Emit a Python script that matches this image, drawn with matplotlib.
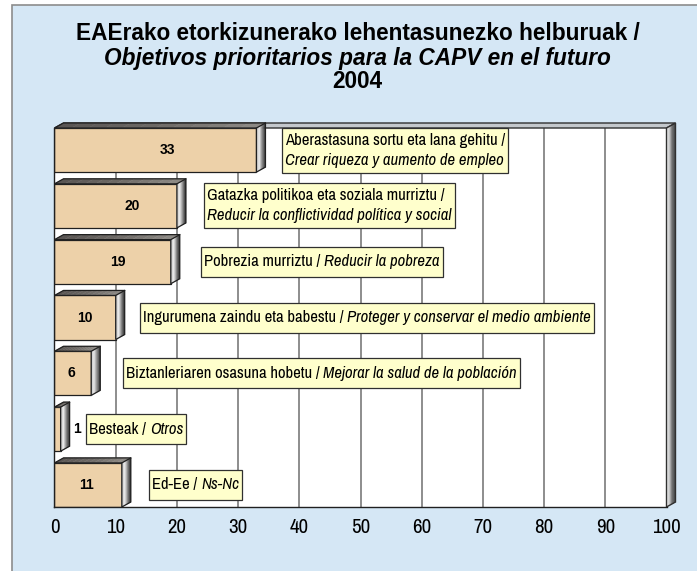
import numpy as np
import matplotlib
matplotlib.use('Agg')
import matplotlib.pyplot as plt
from matplotlib.patches import Polygon, Rectangle

# ── data ──────────────────────────────────────────────────────────────────────
values = [33, 20, 19, 10, 6, 1, 11]
label_eu = ["Aberastasuna sortu eta lana gehitu / ",
            "Gatazka politikoa eta soziala murriztu / ",
            "Pobrezia murriztu / ",
            "Ingurumena zaindu eta babestu / ",
            "Biztanleriaren osasuna hobetu / ",
            "Besteak / ",
            "Ed-Ee / "]
label_es = ["Crear riqueza y aumento de empleo",
            "Reducir la conflictividad política y social",
            "Reducir la pobreza",
            "Proteger y conservar el medio ambiente",
            "Mejorar la salud de la población",
            "Otros",
            "Ns-Nc"]
two_lines = [True, True, False, False, False, False, False]
ticks = list(range(0, 101, 10))

# where the value numbers and the yellow boxes sit (x in axis units)
num_x = [18.5, 12.7, 10.3, 5.0, 2.8, 3.7, 5.3]
box_x = [37.0, 24.3, 23.8, 13.8, 11.0, 5.0, 15.3]

title_l1 = "EAErako etorkizunerako lehentasunezko helburuak /"
title_l2 = "Objetivos prioritarios para la CAPV en el futuro"
title_l3 = "2004"

# ── style ─────────────────────────────────────────────────────────────────────
PANEL = '#D5E7F5'
BAR = '#EDD1A9'
BOX = '#FFFFCC'
GRID = '#7a7a7a'
NARROW = ['Archivo Narrow', 'DejaVu Sans']
BOLD = ['Liberation Sans', 'DejaVu Sans']

plt.rcParams['font.family'] = NARROW

W, H = 697, 571
fig = plt.figure(figsize=(W / 100, H / 100), dpi=100)
fig.patch.set_facecolor('white')

# light blue panel with grey border
fig.add_artist(Rectangle((12 / W, -0.01), 1.0, (H - 5) / H + 0.01,
                         transform=fig.transFigure, facecolor=PANEL,
                         edgecolor='#8c8c8c', linewidth=1.2, zorder=-10))

for txt, yy, st in [(title_l1, 34, 'normal'), (title_l2, 58, 'italic'), (title_l3, 82, 'normal')]:
    fig.text(0.513, 1 - yy / H, txt, ha='center', va='center', fontsize=16.3,
             fontweight='bold', style=st, family=BOLD)

left, right, top, bottom = 54.5, 666.5, 128, 507
ax = fig.add_axes([left / W, (H - bottom) / H, (right - left) / W, (bottom - top) / H])
ax.set_facecolor('white')

n = len(values)
h = 0.79
y = np.arange(n)
ax.set_xlim(0, 100)
ax.set_ylim(n - 1 + h / 2, -h / 2)

px_x = (right - left) / 100.0
px_y = (bottom - top) / (n - 1 + h)
dx = 9 / px_x
dy = 5 / px_y

# grid lines
for t in ticks[1:-1]:
    ax.axvline(t, color=GRID, linewidth=1.2, zorder=1)


def blend(c0, c1, f):
    a = np.array(matplotlib.colors.to_rgb(c0))
    b = np.array(matplotlib.colors.to_rgb(c1))
    return tuple(a + (b - a) * f)


def grad(stops, m):
    out = []
    for k in range(m):
        f = k / (m - 1) * (len(stops) - 1)
        i = min(int(f), len(stops) - 2)
        out.append(blend(stops[i], stops[i + 1], f - i))
    return out


# 3D frame: top face and right wall
y_top, y_bot = -h / 2, n - 1 + h / 2
ax.add_patch(Polygon([(0, y_top), (dx, y_top - dy), (100 + dx, y_top - dy), (100, y_top)],
                     closed=True, facecolor='#c4c8cc', edgecolor='#303030',
                     linewidth=1.0, clip_on=False, zorder=2))
wall = grad(['#f0f0f0', '#c8c8c8', '#707070', '#404040'], 10)
for k, c in enumerate(wall):
    f0, f1 = k / len(wall), (k + 1) / len(wall)
    ax.add_patch(Polygon([(100 + dx * f0, y_top - dy * f0), (100 + dx * f1, y_top - dy * f1),
                          (100 + dx * f1, y_bot - dy * f1), (100 + dx * f0, y_bot - dy * f0)],
                         closed=True, facecolor=c, edgecolor=c, linewidth=0.3,
                         clip_on=False, zorder=2))
ax.add_patch(Polygon([(100, y_top), (100 + dx, y_top - dy), (100 + dx, y_bot - dy), (100, y_bot)],
                     closed=True, facecolor='none', edgecolor='#303030',
                     linewidth=1.0, clip_on=False, zorder=2))

# bars with pseudo 3D faces
ax.barh(y, values, height=h, color=BAR, edgecolor='#202020', linewidth=0.9, zorder=3)
side = grad(['#c8c8c8', '#e8e8e8', '#8a8a8a', '#383838'], 10)
for yi, v in zip(y, values):
    yt, yb = yi - h / 2, yi + h / 2
    m = len(side)
    for k in range(m):
        f0, f1 = k / m, (k + 1) / m
        ax.add_patch(Polygon([(v + dx * f0, yt - dy * f0), (v + dx * f1, yt - dy * f1),
                              (v + dx * f1, yb - dy * f1), (v + dx * f0, yb - dy * f0)],
                             closed=True, facecolor=side[k], edgecolor=side[k],
                             linewidth=0.3, clip_on=False, zorder=3))
    topc = grad(['#5a5654', '#6e6a66', '#8c8984'], 12)
    for k, c in enumerate(topc):
        x0, x1 = v * k / len(topc), v * (k + 1) / len(topc)
        ax.add_patch(Polygon([(x0, yt), (x0 + dx, yt - dy), (x1 + dx, yt - dy), (x1, yt)],
                             closed=True, facecolor=c, edgecolor=c, linewidth=0.3,
                             clip_on=False, zorder=3))
    ax.add_patch(Polygon([(0, yt), (dx, yt - dy), (v + dx, yt - dy), (v + dx, yb - dy),
                          (v, yb), (v, yt)], closed=True, facecolor='none',
                         edgecolor='#202020', linewidth=0.9, clip_on=False, zorder=3))
    ax.plot([v, v + dx], [yt, yt - dy], color='#202020', linewidth=0.9,
            clip_on=False, zorder=3)

for yi, v, nx in zip(y, values, num_x):
    ax.text(nx, yi, str(v), ha='center', va='center', fontsize=10,
            fontweight='bold', family=BOLD, zorder=6)

# yellow label boxes (Basque regular + Spanish italic)
LFS = 12
boxes = []
for yi, bx, eu, es, two in zip(y, box_x, label_eu, label_es, two_lines):
    if two:
        a1 = ax.annotate(eu.rstrip(), xy=(bx, yi), xytext=(4, 10), textcoords='offset pixels',
                         ha='left', va='center', fontsize=LFS, zorder=6)
        a2 = ax.annotate(es, xy=(bx, yi), xytext=(4, -10), textcoords='offset pixels',
                         ha='left', va='center', fontsize=LFS, style='italic', zorder=6)
    else:
        a1 = ax.annotate(eu, xy=(bx, yi), xytext=(4, 0), textcoords='offset pixels',
                         ha='left', va='center', fontsize=LFS, zorder=6)
        a2 = ax.annotate(es, xy=(1, 0), xycoords=a1, ha='left', va='bottom',
                         fontsize=LFS, style='italic', zorder=6)
    boxes.append((yi, bx, [a1, a2], two))

ax.set_xticks(ticks)
ax.set_xticklabels([str(t) for t in ticks], fontsize=15)
ax.tick_params(axis='x', length=0, pad=8)
ax.set_yticks([])
for s in ['top', 'right']:
    ax.spines[s].set_visible(False)
for s in ['left', 'bottom']:
    ax.spines[s].set_color('#202020')
    ax.spines[s].set_linewidth(1.0)
    ax.spines[s].set_zorder(4)

fig.canvas.draw()
r = fig.canvas.get_renderer()
inv = ax.transData.inverted()
for yi, bx, arts, two in boxes:
    bbs = [a.get_window_extent(r) for a in arts]
    x0 = min(b.x0 for b in bbs) - 3
    x1 = max(b.x1 for b in bbs) + 3
    cy = ax.transData.transform((bx, yi))[1]
    half = 22.5 if two else 15
    (dx0, dy0) = inv.transform((x0, cy - half))
    (dx1, dy1) = inv.transform((x1, cy + half))
    ax.add_patch(Rectangle((dx0, dy0), dx1 - dx0, dy1 - dy0, facecolor=BOX,
                           edgecolor='#303030', linewidth=0.9, zorder=5, clip_on=False))

fig.savefig('out.png', dpi=100)
